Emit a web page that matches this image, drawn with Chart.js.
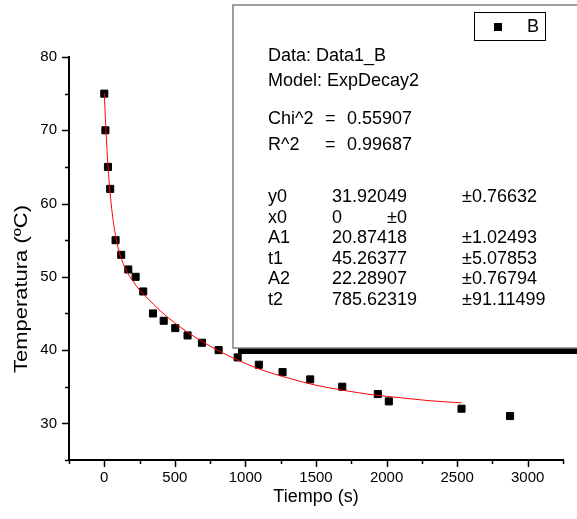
<!DOCTYPE html>
<html>
<head>
<meta charset="utf-8">
<script src="https://cdn.jsdelivr.net/npm/chart.js@4.4.1/dist/chart.umd.min.js"></script>
<style>
  body { margin: 0; background: #fff; }
  #wrap { width: 577px; height: 519px; }
</style>
</head>
<body>
<div id="wrap"><canvas id="chart" width="577" height="519"></canvas></div>
<script>
// measured points
const tiempo = [0, 8, 26, 42, 80, 120, 170, 222, 276, 345, 421, 503, 590, 692, 810, 945, 1095, 1263, 1459, 1686, 1938, 2016, 2531, 2875];
const temperatura = [75, 70, 65, 62, 55, 53, 51, 50, 48, 45, 44, 43, 42, 41, 40, 39, 38, 37, 36, 35, 34, 33, 32, 31];

// red fit line
const fitTiempo = [0, 10, 20, 30, 45, 60, 80, 100, 130, 160, 200, 250, 300, 400, 500, 600, 700, 800, 950, 1100, 1300, 1500, 1700, 1900, 2100, 2300, 2531];
const fitTemp = [75.1, 70.7, 67.1, 64.1, 60.7, 58.1, 55.6, 53.8, 52.0, 50.7, 49.5, 48.2, 47.2, 45.3, 43.7, 42.3, 41.1, 40.0, 38.6, 37.4, 36.2, 35.2, 34.5, 33.9, 33.5, 33.1, 32.8];

// text box contents
const seriesName = 'B';
const yTitle = 'Temperatura (ºC)';
const headerLines = ['Data: Data1_B', 'Model: ExpDecay2'];
const statNames = ['Chi^2', 'R^2'];
const statValues = ['0.55907', '0.99687'];
const paramNames = ['y0', 'x0', 'A1', 't1', 'A2', 't2'];
const paramValues = ['31.92049', '0', '20.87418', '45.26377', '22.28907', '785.62319'];
const paramErrors = ['±0.76632', '±0', '±1.02493', '±5.07853', '±0.76794', '±91.11499'];

const FONT = '"Liberation Sans", Arial, sans-serif';

// Origin style tick marks: long at labelled values, short in between
const tickMarks = {
    id: 'tickMarks',
    afterDraw(chart) {
        const ctx = chart.ctx;
        const area = chart.chartArea;
        const xs = chart.scales.x, ys = chart.scales.y;
        ctx.save();
        ctx.strokeStyle = '#000';
        ctx.lineWidth = 1.5;
        ctx.beginPath();
        xs.ticks.forEach(t => {
            const px = Math.round(xs.getPixelForValue(t.value)) + 0.5;
            const len = t.value % 500 === 0 ? 7 : 4;
            ctx.moveTo(px, area.bottom);
            ctx.lineTo(px, area.bottom + len);
        });
        ys.ticks.forEach(t => {
            const py = Math.round(ys.getPixelForValue(t.value)) + 0.5;
            const len = t.value % 10 === 0 ? 7 : 4;
            ctx.moveTo(area.left, py);
            ctx.lineTo(area.left - len, py);
        });
        ctx.stroke();

        // y axis title, drawn a bit stretched like the original
        ctx.translate(22, 289);
        ctx.rotate(-Math.PI / 2);
        ctx.scale(1.22, 1);
        ctx.font = '18px ' + FONT;
        ctx.fillStyle = '#000';
        ctx.textAlign = 'center';
        ctx.textBaseline = 'middle';
        ctx.fillText(yTitle, 0, 0);
        ctx.restore();
    }
};

// fit results box with shadow and small legend
const fitBox = {
    id: 'fitBox',
    afterDraw(chart) {
        const ctx = chart.ctx;
        const bx = 233, by = 5, bw = 420, bh = 343;
        ctx.save();
        ctx.fillStyle = '#000';
        ctx.fillRect(bx + 5, by + 6, bw, bh);
        ctx.fillStyle = '#fff';
        ctx.fillRect(bx, by, bw, bh);
        ctx.strokeStyle = '#808080';
        ctx.lineWidth = 1.5;
        ctx.strokeRect(bx, by, bw, bh);

        // legend
        ctx.strokeStyle = '#000';
        ctx.lineWidth = 1;
        ctx.strokeRect(474.5, 12.5, 71, 28);
        ctx.fillStyle = '#000';
        ctx.fillRect(494, 23, 8, 8);
        ctx.font = '18px ' + FONT;
        ctx.textBaseline = 'middle';
        ctx.textAlign = 'left';
        ctx.fillText(seriesName, 527, 27);

        ctx.fillText(headerLines[0], 268, 56);
        ctx.fillText(headerLines[1], 268, 81);
        statNames.forEach((n, i) => {
            const y = 119 + i * 26;
            ctx.fillText(n, 268, y);
            ctx.fillText('=', 325, y);
            ctx.fillText(statValues[i], 347, y);
        });
        paramNames.forEach((n, i) => {
            const y = 197 + i * 20.6;
            ctx.fillText(n, 268, y);
            ctx.fillText(paramValues[i], 332, y);
            ctx.fillText(paramErrors[i], n === 'x0' ? 387 : 462, y);
        });
        ctx.restore();
    }
};

const ctx = document.getElementById('chart').getContext('2d');
const chart = new Chart(ctx, {
    type: 'scatter',
    data: {
        datasets: [
            {
                label: 'fit',
                data: fitTiempo.map((t, i) => ({ x: t, y: fitTemp[i] })),
                showLine: true,
                borderColor: '#ff0000',
                borderWidth: 1,
                pointRadius: 0,
                cubicInterpolationMode: 'monotone',
                fill: false
            },
            {
                label: seriesName,
                data: tiempo.map((t, i) => ({ x: t, y: temperatura[i] })),
                pointStyle: 'rect',
                pointRadius: 5,
                backgroundColor: '#000',
                borderColor: '#000',
                borderWidth: 1
            }
        ]
    },
    options: {
        responsive: false,
        animation: false,
        devicePixelRatio: 1,
        layout: { padding: { left: 0, top: 57, right: 14, bottom: 0 } },
        plugins: {
            legend: { display: false },
            tooltip: { enabled: false }
        },
        scales: {
            x: {
                type: 'linear',
                min: -250,
                max: 3250,
                afterFit: s => { s.height = 59; },
                grid: { display: true, drawOnChartArea: false, drawTicks: false },
                border: { display: true, color: '#000', width: 2 },
                ticks: {
                    stepSize: 250,
                    autoSkip: false,
                    maxRotation: 0,
                    padding: 9,
                    color: '#000',
                    font: { family: FONT, size: 15 },
                    callback: v => (v % 500 === 0 ? String(v) : '')
                },
                title: {
                    display: true,
                    text: 'Tiempo (s)',
                    color: '#000',
                    font: { family: FONT, size: 18 },
                    padding: { top: 0, bottom: 11 }
                }
            },
            y: {
                type: 'linear',
                min: 25,
                max: 80,
                afterFit: s => { s.width = 69; },
                grid: { display: true, drawOnChartArea: false, drawTicks: false },
                border: { display: true, color: '#000', width: 2 },
                ticks: {
                    stepSize: 5,
                    autoSkip: false,
                    padding: 12,
                    color: '#000',
                    font: { family: FONT, size: 15 },
                    callback: v => (v % 10 === 0 ? String(v) : '')
                },
                title: { display: false }
            }
        }
    },
    plugins: [tickMarks, fitBox]
});
</script>
</body>
</html>
